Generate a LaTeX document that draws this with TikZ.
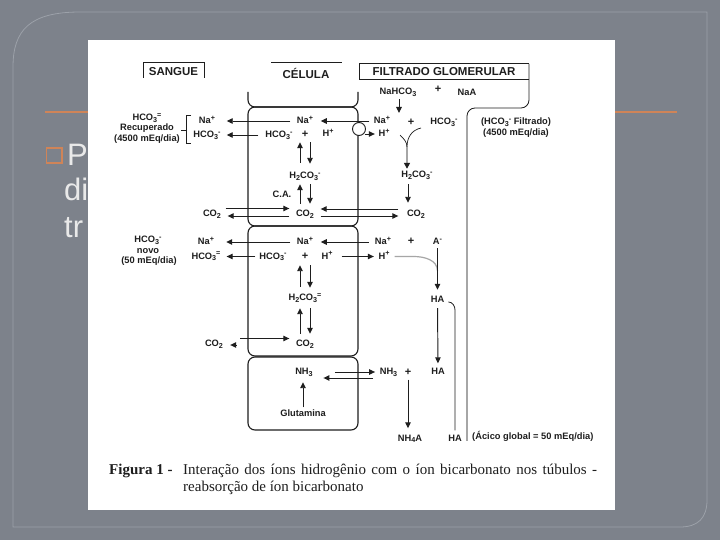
\documentclass[tikz,border=0pt]{standalone}
\usepackage{fontspec}
\setmainfont{Liberation Serif}
\newfontfamily\dsans{Liberation Sans}
\usetikzlibrary{arrows.meta}
\newcommand{\mysub}[1]{\raisebox{-1.8pt}{\fontsize{7.2}{8}\selectfont #1}}
\newcommand{\mysup}[1]{\raisebox{3.2pt}{\fontsize{7.2}{8}\selectfont #1}}
\definecolor{slide}{HTML}{7D828B}
\definecolor{framec}{HTML}{9CA1A9}
\definecolor{orng}{HTML}{CF8458}
\definecolor{slidetxt}{HTML}{E9E9E9}
\definecolor{memgray}{HTML}{A6A6A6}
\definecolor{ink}{HTML}{1E1E1E}
\begin{document}
\begin{tikzpicture}[x=1pt,y=-1pt,
  lb/.style={font=\dsans\fontsize{9.3}{10}\selectfont\bfseries, text=ink, inner sep=1pt, text height=6.5pt, text depth=1.5pt},
  pl/.style={lb, font=\dsans\fontsize{11}{11}\selectfont\bfseries},
  hd/.style={font=\dsans\fontsize{11.5}{12}\selectfont\bfseries, text=ink, inner sep=0pt},
  arr/.style={draw=ink, line width=0.95pt, -{Triangle[length=6pt,width=5.5pt]}},
  mem/.style={draw=ink, line width=1.1pt, rounded corners=7pt},
  thinln/.style={draw=ink, line width=0.8pt},
  captxt/.style={anchor=base west, inner sep=0pt, text=ink, font=\fontsize{15}{18}\selectfont},
  bgtxt/.style={anchor=base west, inner sep=0pt, text=slidetxt, font=\dsans\fontsize{31}{31}\selectfont}
]
% slide background
\fill[slide] (0,0) rectangle (720,540);
\draw[framec, line width=0.8pt] (13,527) -- (13,67) .. controls (13,30) and (30,12) .. (80,12) -- (707,12) -- (707,500) .. controls (707,518) and (698,527) .. (680,527) -- cycle;
\draw[orng, line width=1.5pt] (45,112) -- (677,112);
\draw[orng, line width=1.5pt] (46.5,148) rectangle (62,163);
\node[bgtxt] (sp) at (67,166) {P};
\node[bgtxt] (sd) at (64,201) {di};
\node[bgtxt] (st) at (64,237) {tr};
\fill[white] (88,40) rectangle (615,510);

% headers
\node[hd] (sangue) at (173.5,71.5) {SANGUE};
\draw[draw=ink, line width=1pt] (143,78) -- (143,63) -- (204,63) -- (204,78);
\node[hd] (celula) at (306,73) {CÉLULA};
\draw[draw=ink, line width=1pt] (271,63) -- (342,63);
\node[hd] (filt) at (444,72) {FILTRADO GLOMERULAR};
\draw[draw=ink, line width=1pt] (529,64) -- (359,64) -- (359,80) -- (529,80);
\draw[thinln] (529,64) -- (529,100) to[out=-90,in=0] (521,108) -- (475,108) to[out=180,in=90] (467,116);
\draw[memgray, line width=1.6pt] (467,116) -- (467,441);

% cell membranes
\draw[mem] (248,92) -- (248,107) -- (358,107) -- (358,92);
\draw[mem] (248,107) rectangle (358,226);
\draw[mem] (248,226) rectangle (358,356);
\draw[mem] (248,357) rectangle (358,430);
\node[circle, draw=ink, fill=white, line width=0.9pt, minimum size=13pt, inner sep=0pt] (circ) at (359,129) {};

% row 1
\node[lb] (nahco) at (398,92) {NaHCO\mysub{3}};
\node[pl] (npl) at (438,90) {+};
\node[lb] (naa) at (467,93.5) {NaA};
\node[lb] (bhcoL1) at (147,118) {HCO\mysub{3}\mysup{=}};
\node[lb] (brec) at (147,128.5) {Recuperado};
\node[lb] (b4500) at (147,139) {(4500 mEq/dia)};
\draw[thinln] (191,115) -- (186.5,115) -- (186.5,143) -- (191,143) (186.5,130) -- (181,130);
\node[lb] (bna1) at (207,121) {Na\mysup{+}};
\node[lb] (bhco1) at (207,135) {HCO\mysub{3}\mysup{-}};
\node[lb] (cna1) at (305,121) {Na\mysup{+}};
\node[lb] (chco1) at (279,135) {HCO\mysub{3}\mysup{-}};
\node[pl] (cpl1) at (305,135.5) {+};
\node[lb] (ch1) at (328,134.5) {H\mysup{+}};
\node[lb] (fna1) at (382,121) {Na\mysup{+}};
\node[pl] (fpl1) at (411,123) {+};
\node[lb] (fhco1) at (444,122.5) {HCO\mysub{3}\mysup{-}};
\node[lb] (fh1) at (384,134) {H\mysup{+}};
\node[lb] (filtr) at (516,122.5) {(HCO\mysub{3}\mysup{-} Filtrado)};
\node[lb] (f4500) at (516,133) {(4500 mEq/dia)};

\coordinate (naIn) at (399,113);
\draw[arr, shorten <=2pt] (nahco.south -| naIn) -- (naIn);
\draw[arr, shorten <=5.5pt, shorten >=10.5pt] (cna1.west) -- (bna1.east);
\draw[arr, shorten <=3.5pt, shorten >=6.5pt] (fna1.west) -- (cna1.east);
\draw[arr, shorten <=6pt, shorten >=5pt] (chco1.west) -- (bhco1.east);
\draw[arr, shorten <=1pt, shorten >=2.5pt] (circ.south east |- fh1.west) -- (fh1.west);

% filtrate merge
\coordinate (ym) at (407,147);
\draw[thinln, line width=0.7pt] (400,135) .. controls (404,139) and (407,142) .. (ym);
\draw[thinln, line width=0.7pt] (421,128) .. controls (412,130) and (407,137) .. (ym);

% row 1 lower
\node[lb] (ch2co1) at (305,176) {H\mysub{2}CO\mysub{3}\mysup{-}};
\node[lb] (ca) at (282,195) {C.A.};
\node[lb] (cco1) at (305,214) {CO\mysub{2}};
\node[lb] (bco1) at (212,214) {CO\mysub{2}};
\node[lb] (fh2co1) at (417,175) {H\mysub{2}CO\mysub{3}\mysup{-}};
\node[lb] (fco1) at (416,214) {CO\mysub{2}};

\draw[memgray, line width=1.8pt, -{Triangle[length=6pt,width=6pt,ink]}, shorten >=1pt] (ym) -- (ym |- fh2co1.north);
\draw[arr, shorten <=8pt, shorten >=1.5pt] ([xshift=-5pt]ch2co1.north) -- ([xshift=-5pt]cpl1.south);
\draw[arr, shorten <=1.5pt, shorten >=7pt] ([xshift=5pt]cpl1.south) -- ([xshift=5pt]ch2co1.north);
\draw[arr, shorten <=5pt, shorten >=3pt] ([xshift=-5pt]cco1.north) -- ([xshift=-5pt]ch2co1.south);
\draw[arr, shorten <=3pt, shorten >=5pt] ([xshift=5pt]ch2co1.south) -- ([xshift=5pt]cco1.north);
\draw[arr, shorten <=3.5pt, shorten >=5.5pt] ([yshift=5.5pt]bco1.east) -- ([yshift=5.5pt]cco1.west);
\draw[arr, shorten <=5.5pt, shorten >=5.5pt] ([yshift=-2pt]cco1.west) -- ([yshift=-2pt]bco1.east);
\draw[arr, shorten <=7.5pt, shorten >=5.5pt] ([yshift=5pt]fco1.west) -- ([yshift=5pt]cco1.east);
\draw[arr, shorten <=5.5pt, shorten >=7.5pt] ([yshift=-2pt]cco1.east) -- ([yshift=-2pt]fco1.west);
\draw[arr, shorten <=4pt, shorten >=6pt] ([xshift=-9pt]fh2co1.south) -- ([xshift=-9pt]fh2co1.south |- fco1.north);

% row 2
\node[lb] (bhcoL2) at (148,240) {HCO\mysub{3}\mysup{-}};
\node[lb] (bnovo) at (148,250.5) {novo};
\node[lb] (b50) at (149,261) {(50 mEq/dia)};
\node[lb] (bna2) at (206,242) {Na\mysup{+}};
\node[lb] (bhco2) at (206,256.5) {HCO\mysub{3}\mysup{=}};
\node[lb] (cna2) at (305,242) {Na\mysup{+}};
\node[lb] (chco2) at (273,256.5) {HCO\mysub{3}\mysup{-}};
\node[pl] (cpl2) at (305,257) {+};
\node[lb] (ch2) at (327,256.5) {H\mysup{+}};
\node[lb] (fna2) at (383,242) {Na\mysup{+}};
\node[pl] (fpl2) at (411,242) {+};
\node[lb] (fa) at (437.5,242) {A\mysup{-}};
\node[lb] (fh2) at (384,256.5) {H\mysup{+}};
\node[lb] (ch2co2) at (305,298) {H\mysub{2}CO\mysub{3}\mysup{=}};
\node[lb] (cco2) at (305,344) {CO\mysub{2}};
\node[lb] (bco2) at (214,344) {CO\mysub{2}};
\node[lb] (fha1) at (437.5,300) {HA};
\node[lb] (fha2) at (438,371.5) {HA};

\draw[arr, shorten <=5.5pt, shorten >=11pt] (cna2.west) -- (bna2.east);
\draw[arr, shorten <=5pt, shorten >=6.5pt] (fna2.west) -- (cna2.east);
\draw[arr, shorten <=3pt, shorten >=5pt] (chco2.west) -- (bhco2.east);
\draw[arr, shorten <=8pt, shorten >=3.5pt] (ch2.east) -- (fh2.west);
\coordinate (gj) at (437.5,271);
\draw[memgray, line width=1.2pt] ([xshift=4pt]fh2.east) -- ++(19,0) to[out=0,in=90] (gj);
\draw[arr, shorten <=1pt, shorten >=5pt] (fa.south) -- (fha1.north);
\draw[arr, shorten <=3pt, shorten >=3pt] (fha1.south) -- (fha2.north);
\draw[arr, shorten <=6pt, shorten >=3pt] ([xshift=-5pt]ch2co2.north) -- ([xshift=-5pt]cpl2.south);
\draw[arr, shorten <=3pt, shorten >=5pt] ([xshift=5pt]cpl2.south) -- ([xshift=5pt]ch2co2.north);
\draw[arr, shorten <=5pt, shorten >=5pt] ([xshift=-5pt]cco2.north) -- ([xshift=-5pt]ch2co2.south);
\draw[arr, shorten <=5pt, shorten >=5pt] ([xshift=5pt]ch2co2.south) -- ([xshift=5pt]cco2.north);
\draw[arr, shorten <=16pt, shorten >=5.5pt] ([yshift=5.5pt]bco2.east) -- ([yshift=5.5pt]cco2.west);
\draw[arr, shorten >=6pt] ([xshift=12.5pt,yshift=-1pt]bco2.east) -- ([yshift=-1pt]bco2.east);

% row 3
\node[lb] (cnh3) at (304,372) {NH\mysub{3}};
\node[lb] (glut) at (303,413.5) {Glutamina};
\node[lb] (fnh3) at (388.5,372) {NH\mysub{3}};
\node[pl] (fpl3) at (408,372.5) {+};
\node[lb] (nh4a) at (410,438.5) {NH\mysub{4}A};
\node[lb] (fha3) at (455,438.5) {HA};
\node[lb, anchor=west] (glob) at (471,437) {(Ácico global = 50 mEq/dia)};
\coordinate (hb) at (455,310);
\draw[thinln] ([xshift=3pt,yshift=-2pt]fha1.east) to[out=0,in=90] (hb) -- ([yshift=3pt]fha3.north);

\draw[arr, shorten <=21pt, shorten >=3.5pt] (cnh3.east) -- (fnh3.west);
\draw[arr, shorten <=5.5pt, shorten >=9.5pt] ([yshift=-6pt]fnh3.west) -- ([yshift=-6pt]cnh3.east);
\draw[arr, shorten <=2pt, shorten >=5pt] (fpl3.south) -- (fpl3.south |- nh4a.north);
\draw[arr, shorten <=1pt, shorten >=5pt] (glut.north) -- (glut.north |- cnh3.south);

% caption
\node[captxt, font=\fontsize{15}{18}\selectfont\bfseries] (fig) at (109,474) {Figura 1 -};
\node[captxt] (cap1) at (183,474) {\makebox[414pt][s]{Interação dos íons hidrogênio com o íon bicarbonato nos túbulos -}};
\node[captxt] (cap2) at (183,491) {reabsorção de íon bicarbonato};
\end{tikzpicture}
\end{document}
